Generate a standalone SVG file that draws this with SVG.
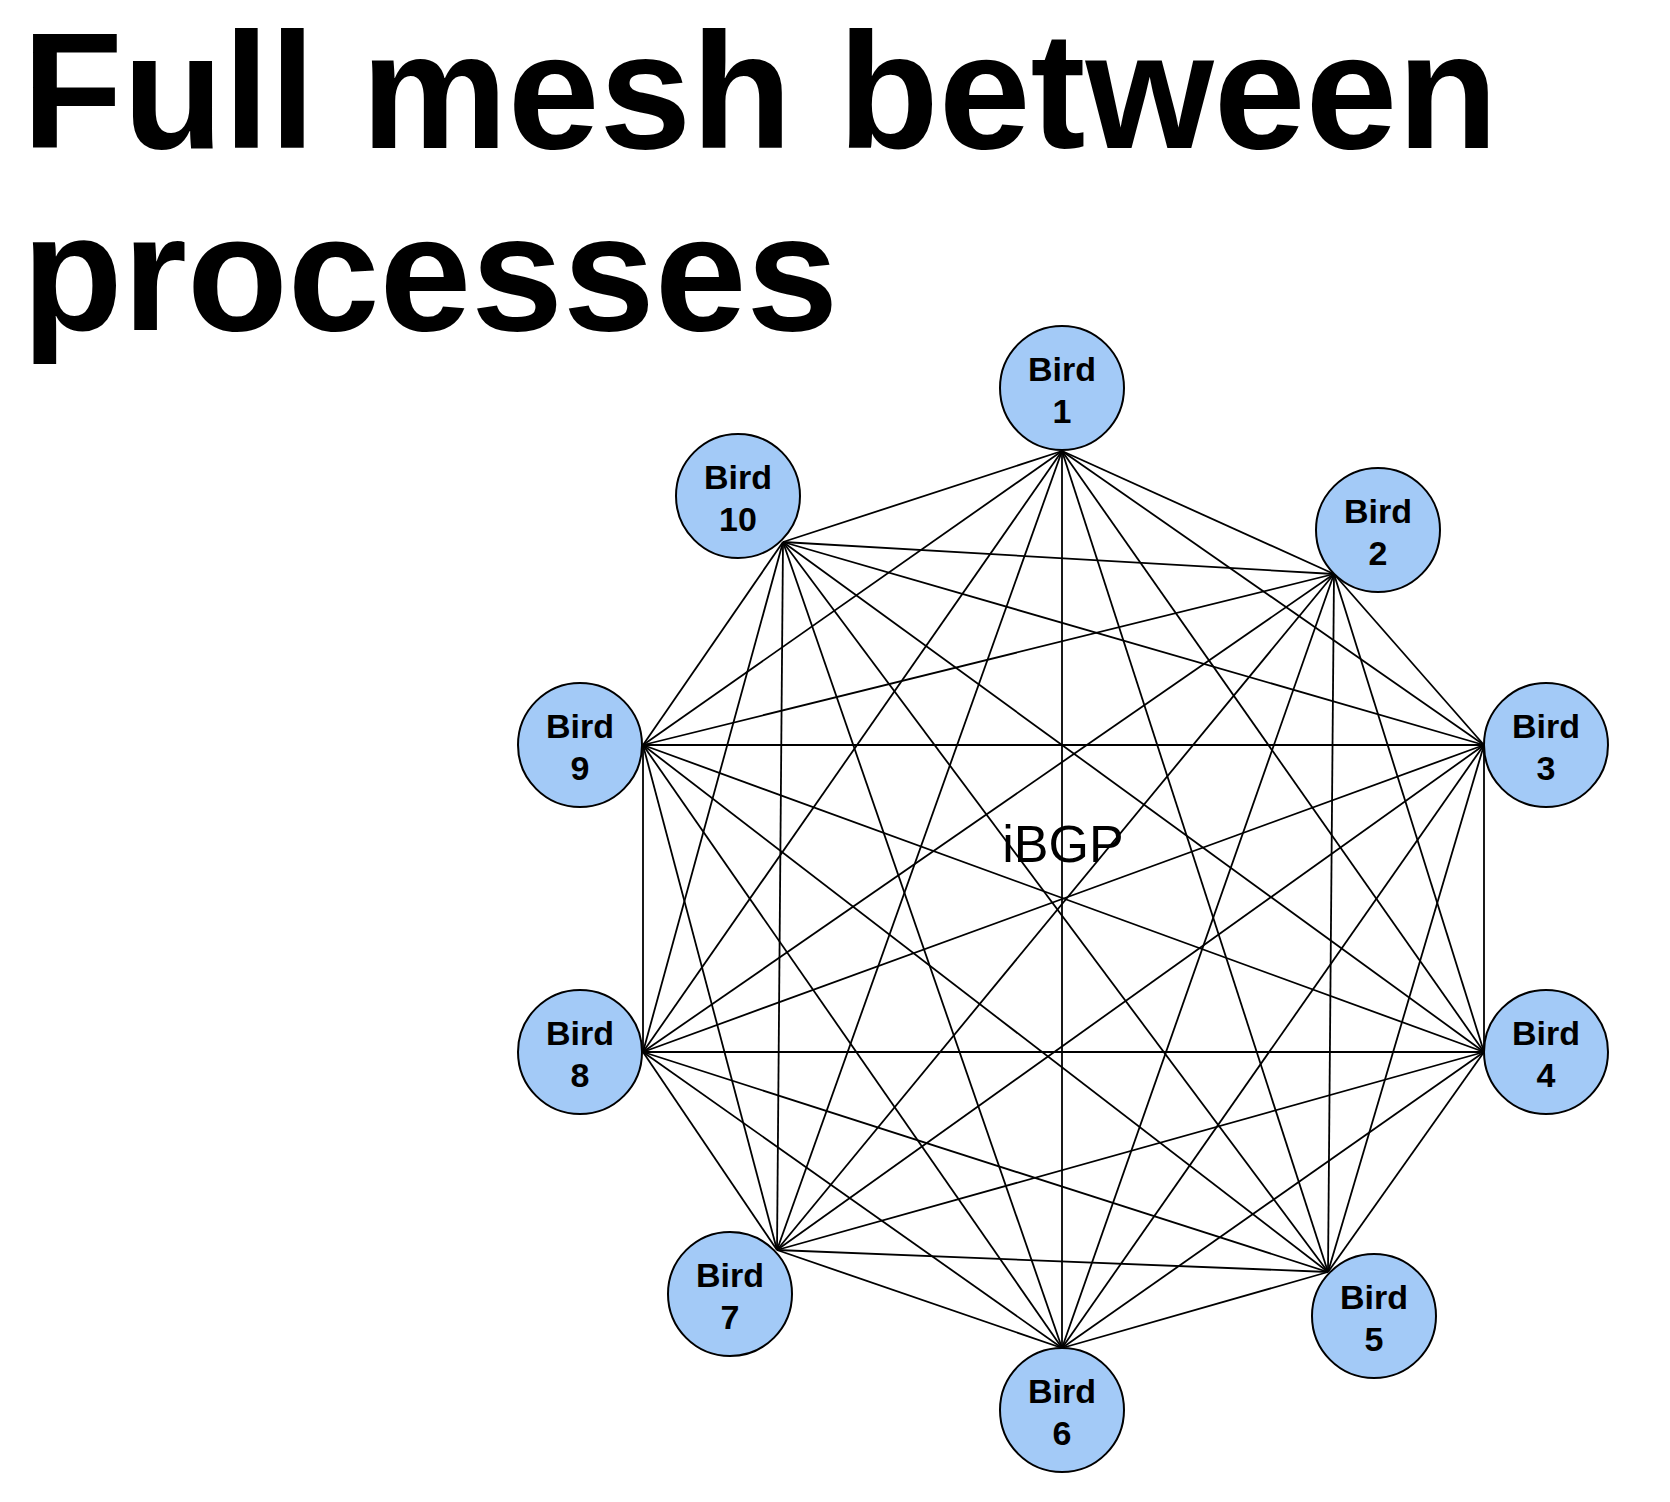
<svg xmlns="http://www.w3.org/2000/svg" width="1670" height="1502" viewBox="0 0 1670 1502">
<style>
.title{font-family:"Liberation Sans",Arial,sans-serif;font-weight:bold;font-size:165px;fill:#000}
.lbl{font-family:"Liberation Sans",Arial,sans-serif;font-weight:bold;font-size:34px;fill:#000;text-anchor:middle}
.node circle{fill:#a3caf7;stroke:#000;stroke-width:2}
#edges line{stroke:#000;stroke-width:1.8}
.mid{font-family:"Liberation Sans",Arial,sans-serif;font-size:52px;fill:#000;text-anchor:middle}
</style>
<rect width="1670" height="1502" fill="#fff"/>
<text class="title" x="22" y="148">Full mesh between</text>
<text class="title" x="22" y="330">processes</text>
<g id="edges">
<line x1="1062" y1="451" x2="1334" y2="574"/>
<line x1="1062" y1="451" x2="1484" y2="745"/>
<line x1="1062" y1="451" x2="1484" y2="1052"/>
<line x1="1062" y1="451" x2="1328" y2="1272"/>
<line x1="1062" y1="451" x2="1062" y2="1348"/>
<line x1="1062" y1="451" x2="777" y2="1250"/>
<line x1="1062" y1="451" x2="643" y2="1052"/>
<line x1="1062" y1="451" x2="643" y2="745"/>
<line x1="1062" y1="451" x2="783" y2="542"/>
<line x1="1334" y1="574" x2="1484" y2="745"/>
<line x1="1334" y1="574" x2="1484" y2="1052"/>
<line x1="1334" y1="574" x2="1328" y2="1272"/>
<line x1="1334" y1="574" x2="1062" y2="1348"/>
<line x1="1334" y1="574" x2="777" y2="1250"/>
<line x1="1334" y1="574" x2="643" y2="1052"/>
<line x1="1334" y1="574" x2="643" y2="745"/>
<line x1="1334" y1="574" x2="783" y2="542"/>
<line x1="1484" y1="745" x2="1484" y2="1052"/>
<line x1="1484" y1="745" x2="1328" y2="1272"/>
<line x1="1484" y1="745" x2="1062" y2="1348"/>
<line x1="1484" y1="745" x2="777" y2="1250"/>
<line x1="1484" y1="745" x2="643" y2="1052"/>
<line x1="1484" y1="745" x2="643" y2="745"/>
<line x1="1484" y1="745" x2="783" y2="542"/>
<line x1="1484" y1="1052" x2="1328" y2="1272"/>
<line x1="1484" y1="1052" x2="1062" y2="1348"/>
<line x1="1484" y1="1052" x2="777" y2="1250"/>
<line x1="1484" y1="1052" x2="643" y2="1052"/>
<line x1="1484" y1="1052" x2="643" y2="745"/>
<line x1="1484" y1="1052" x2="783" y2="542"/>
<line x1="1328" y1="1272" x2="1062" y2="1348"/>
<line x1="1328" y1="1272" x2="777" y2="1250"/>
<line x1="1328" y1="1272" x2="643" y2="1052"/>
<line x1="1328" y1="1272" x2="643" y2="745"/>
<line x1="1328" y1="1272" x2="783" y2="542"/>
<line x1="1062" y1="1348" x2="777" y2="1250"/>
<line x1="1062" y1="1348" x2="643" y2="1052"/>
<line x1="1062" y1="1348" x2="643" y2="745"/>
<line x1="1062" y1="1348" x2="783" y2="542"/>
<line x1="777" y1="1250" x2="643" y2="1052"/>
<line x1="777" y1="1250" x2="643" y2="745"/>
<line x1="777" y1="1250" x2="783" y2="542"/>
<line x1="643" y1="1052" x2="643" y2="745"/>
<line x1="643" y1="1052" x2="783" y2="542"/>
<line x1="643" y1="745" x2="783" y2="542"/>
</g>
<text class="mid" x="1063" y="862">iBGP</text>
<g id="bird1" class="node"><circle cx="1062" cy="388" r="62"/><text class="lbl" x="1062" y="381">Bird</text><text class="lbl" x="1062" y="423">1</text></g>
<g id="bird2" class="node"><circle cx="1378" cy="530" r="62"/><text class="lbl" x="1378" y="523">Bird</text><text class="lbl" x="1378" y="565">2</text></g>
<g id="bird3" class="node"><circle cx="1546" cy="745" r="62"/><text class="lbl" x="1546" y="738">Bird</text><text class="lbl" x="1546" y="780">3</text></g>
<g id="bird4" class="node"><circle cx="1546" cy="1052" r="62"/><text class="lbl" x="1546" y="1045">Bird</text><text class="lbl" x="1546" y="1087">4</text></g>
<g id="bird5" class="node"><circle cx="1374" cy="1316" r="62"/><text class="lbl" x="1374" y="1309">Bird</text><text class="lbl" x="1374" y="1351">5</text></g>
<g id="bird6" class="node"><circle cx="1062" cy="1410" r="62"/><text class="lbl" x="1062" y="1403">Bird</text><text class="lbl" x="1062" y="1445">6</text></g>
<g id="bird7" class="node"><circle cx="730" cy="1294" r="62"/><text class="lbl" x="730" y="1287">Bird</text><text class="lbl" x="730" y="1329">7</text></g>
<g id="bird8" class="node"><circle cx="580" cy="1052" r="62"/><text class="lbl" x="580" y="1045">Bird</text><text class="lbl" x="580" y="1087">8</text></g>
<g id="bird9" class="node"><circle cx="580" cy="745" r="62"/><text class="lbl" x="580" y="738">Bird</text><text class="lbl" x="580" y="780">9</text></g>
<g id="bird10" class="node"><circle cx="738" cy="496" r="62"/><text class="lbl" x="738" y="489">Bird</text><text class="lbl" x="738" y="531">10</text></g>
</svg>
